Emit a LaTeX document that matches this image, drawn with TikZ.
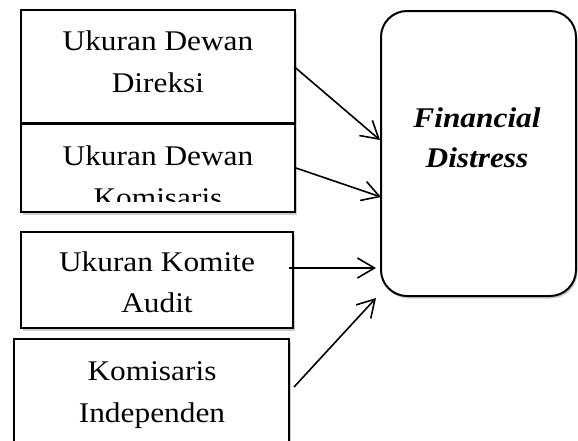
\documentclass[tikz,border=0pt]{standalone}
\usepackage{fontspec}
\setmainfont[FakeStretch=1.1]{Liberation Serif}
\usetikzlibrary{arrows.meta,calc,shadows}
\begin{document}
\begin{tikzpicture}[x=1pt,y=-1pt,
 box/.style={draw=black, line width=2pt, fill=white, rectangle, inner sep=0pt,
   drop shadow={shadow xshift=1.5pt,shadow yshift=-2.5pt,opacity=0.4}},
 lbl/.style={anchor=base, inner sep=0pt, font=\fontsize{28.5}{42}\selectfont},
 arr/.style={line width=1.6pt, -{Straight Barb[length=17pt,width=20pt,line width=1.6pt]}}]
\useasboundingbox (0,0) rectangle (578,440);
% boxes
\node[box, minimum width=274pt, minimum height=113pt] (b1) at (158,66.5) {};
\node[box, minimum width=274pt, minimum height=88pt] (b2) at (158,168) {};
\node[box, minimum width=272pt, minimum height=96pt] (b3) at (157,280) {};
\node[box, minimum width=275pt, minimum height=121pt] (b4) at (151.5,399.5) {};
\node[box, rounded corners=26pt, minimum width=195pt, minimum height=285pt] (fd) at (478.5,153.5) {};
% labels
\node[lbl] (l1a) at (158,50) {Ukuran Dewan};
\node[lbl] (l1b) at (158,92) {Direksi};
\node[lbl] (l2a) at (158,165) {Ukuran Dewan};
\begin{scope}
\clip (21,124) rectangle (295,201.5);
\node[lbl] (l2b) at (158,207) {Komisaris};
\end{scope}
\node[lbl] (l3a) at (157,271) {Ukuran Komite};
\node[lbl] (l3b) at (157,312) {Audit};
\node[lbl] (l4a) at (152,380) {Komisaris};
\node[lbl] (l4b) at (152,422) {Independen};
\node[lbl] (f1) at (477,127) {\bfseries\itshape Financial};
\node[lbl] (f2) at (477,167) {\bfseries\itshape Distress};
% arrows
\draw[arr] ($(b1.east)+(-2,0)$) -- ($(fd.west)+(0,-13.5)$);
\draw[arr] (b2.east) -- ($(fd.west)+(1,43.5)$);
\draw[arr] ($(b3.east)+(-5,-12)$) -- ($(fd.west)+(-4,114.5)$);
\draw[arr] ($(b4.east)+(4,-12.5)$) -- ($(fd.south west)+(-4,1)$);
\end{tikzpicture}
\end{document}
